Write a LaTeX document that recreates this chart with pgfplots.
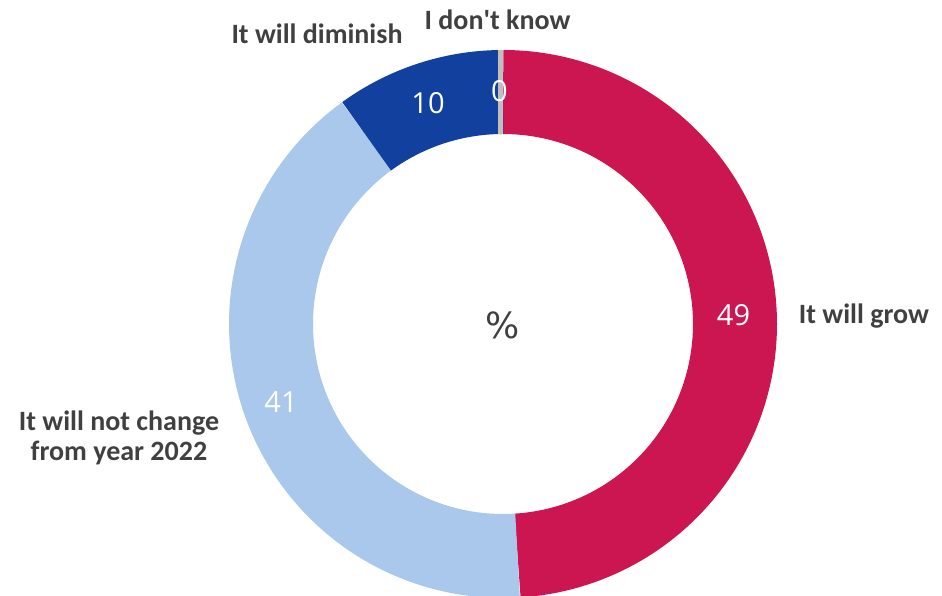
\documentclass[border=0pt]{standalone}
\usepackage{fontspec}
\setmainfont{Carlito}
\newfontfamily\numfont{Open Sans}
\newfontfamily\djv{DejaVu Sans}
\usepackage{pgfplots}
\pgfplotsset{compat=1.18}
\definecolor{cgrow}{HTML}{CC1651}
\definecolor{cnot}{HTML}{A9C8EC}
\definecolor{cdim}{HTML}{12409E}
\definecolor{cdk}{HTML}{BFBFBF}
\definecolor{ctxt}{HTML}{404040}
% shares (%): grow 49, not change 41, diminish 10, don't know 0
% start at 12 o'clock, clockwise; 1% = 3.6 degrees
\def\cx{503}\def\cy{-324}\def\rmid{232}
\begin{document}
\begin{tikzpicture}
\begin{axis}[hide axis, scale only axis, width=942bp, height=596bp,
  xmin=0, xmax=942, ymin=-596, ymax=0, clip=true]
% It will grow: 49 -> from 90 down to 90-176.4
\addplot[variable=\t, domain=-86.4:90, samples=150, line width=84bp, color=cgrow, line cap=butt]
  ({\cx+\rmid*cos(\t)},{\cy+\rmid*sin(\t)});
% It will not change: 41 -> 147.6 degrees
\addplot[variable=\t, domain=126:273.6, samples=150, line width=84bp, color=cnot, line cap=butt]
  ({\cx+\rmid*cos(\t)},{\cy+\rmid*sin(\t)});
% It will diminish: 10 -> 36 degrees
\addplot[variable=\t, domain=90:126, samples=60, line width=84bp, color=cdim, line cap=butt]
  ({\cx+\rmid*cos(\t)},{\cy+\rmid*sin(\t)});
% I don't know: 0 (thin slice)
\addplot[color=cdk, line width=5bp] coordinates {(500.8,-134) (500.8,-50)};
% category labels
\node[anchor=base, text=ctxt, font=\fontsize{28bp}{30bp}\selectfont\bfseries] at (axis cs:497.5,-30) {I don\textquotesingle t know};
\node[anchor=base, text=ctxt, font=\fontsize{28bp}{30bp}\selectfont\bfseries] at (axis cs:317,-43.3) {It will diminish};
\node[anchor=base, text=ctxt, font=\fontsize{28bp}{30bp}\selectfont\bfseries] at (axis cs:864,-323.3) {It will grow};
\node[anchor=base, text=ctxt, font=\fontsize{28bp}{30bp}\selectfont\bfseries] at (axis cs:119,-430.7) {It will not change};
\node[anchor=base, text=ctxt, font=\fontsize{28bp}{30bp}\selectfont\bfseries] at (axis cs:119,-460.7) {from year 2022};
% value labels
\node[anchor=base, text=white, font=\fontsize{29bp}{30bp}\selectfont\numfont] at (axis cs:733.5,-326) {49};
\node[anchor=base, text=white, font=\fontsize{29bp}{30bp}\selectfont\numfont] at (axis cs:281,-412.7) {41};
\node[anchor=base, text=white, font=\fontsize{29bp}{30bp}\selectfont\numfont] at (axis cs:428,-113.3) {10};
\node[anchor=base, text=white, font=\fontsize{29bp}{30bp}\selectfont\numfont] at (axis cs:499.5,-101.7) {0};
\node[anchor=base, text=ctxt, font=\fontsize{36bp}{38bp}\selectfont\djv] at (axis cs:502.5,-338.3) {\%};
\end{axis}
\pgfresetboundingbox
\useasboundingbox (current axis.south west) rectangle (current axis.north east);
\end{tikzpicture}
\end{document}
